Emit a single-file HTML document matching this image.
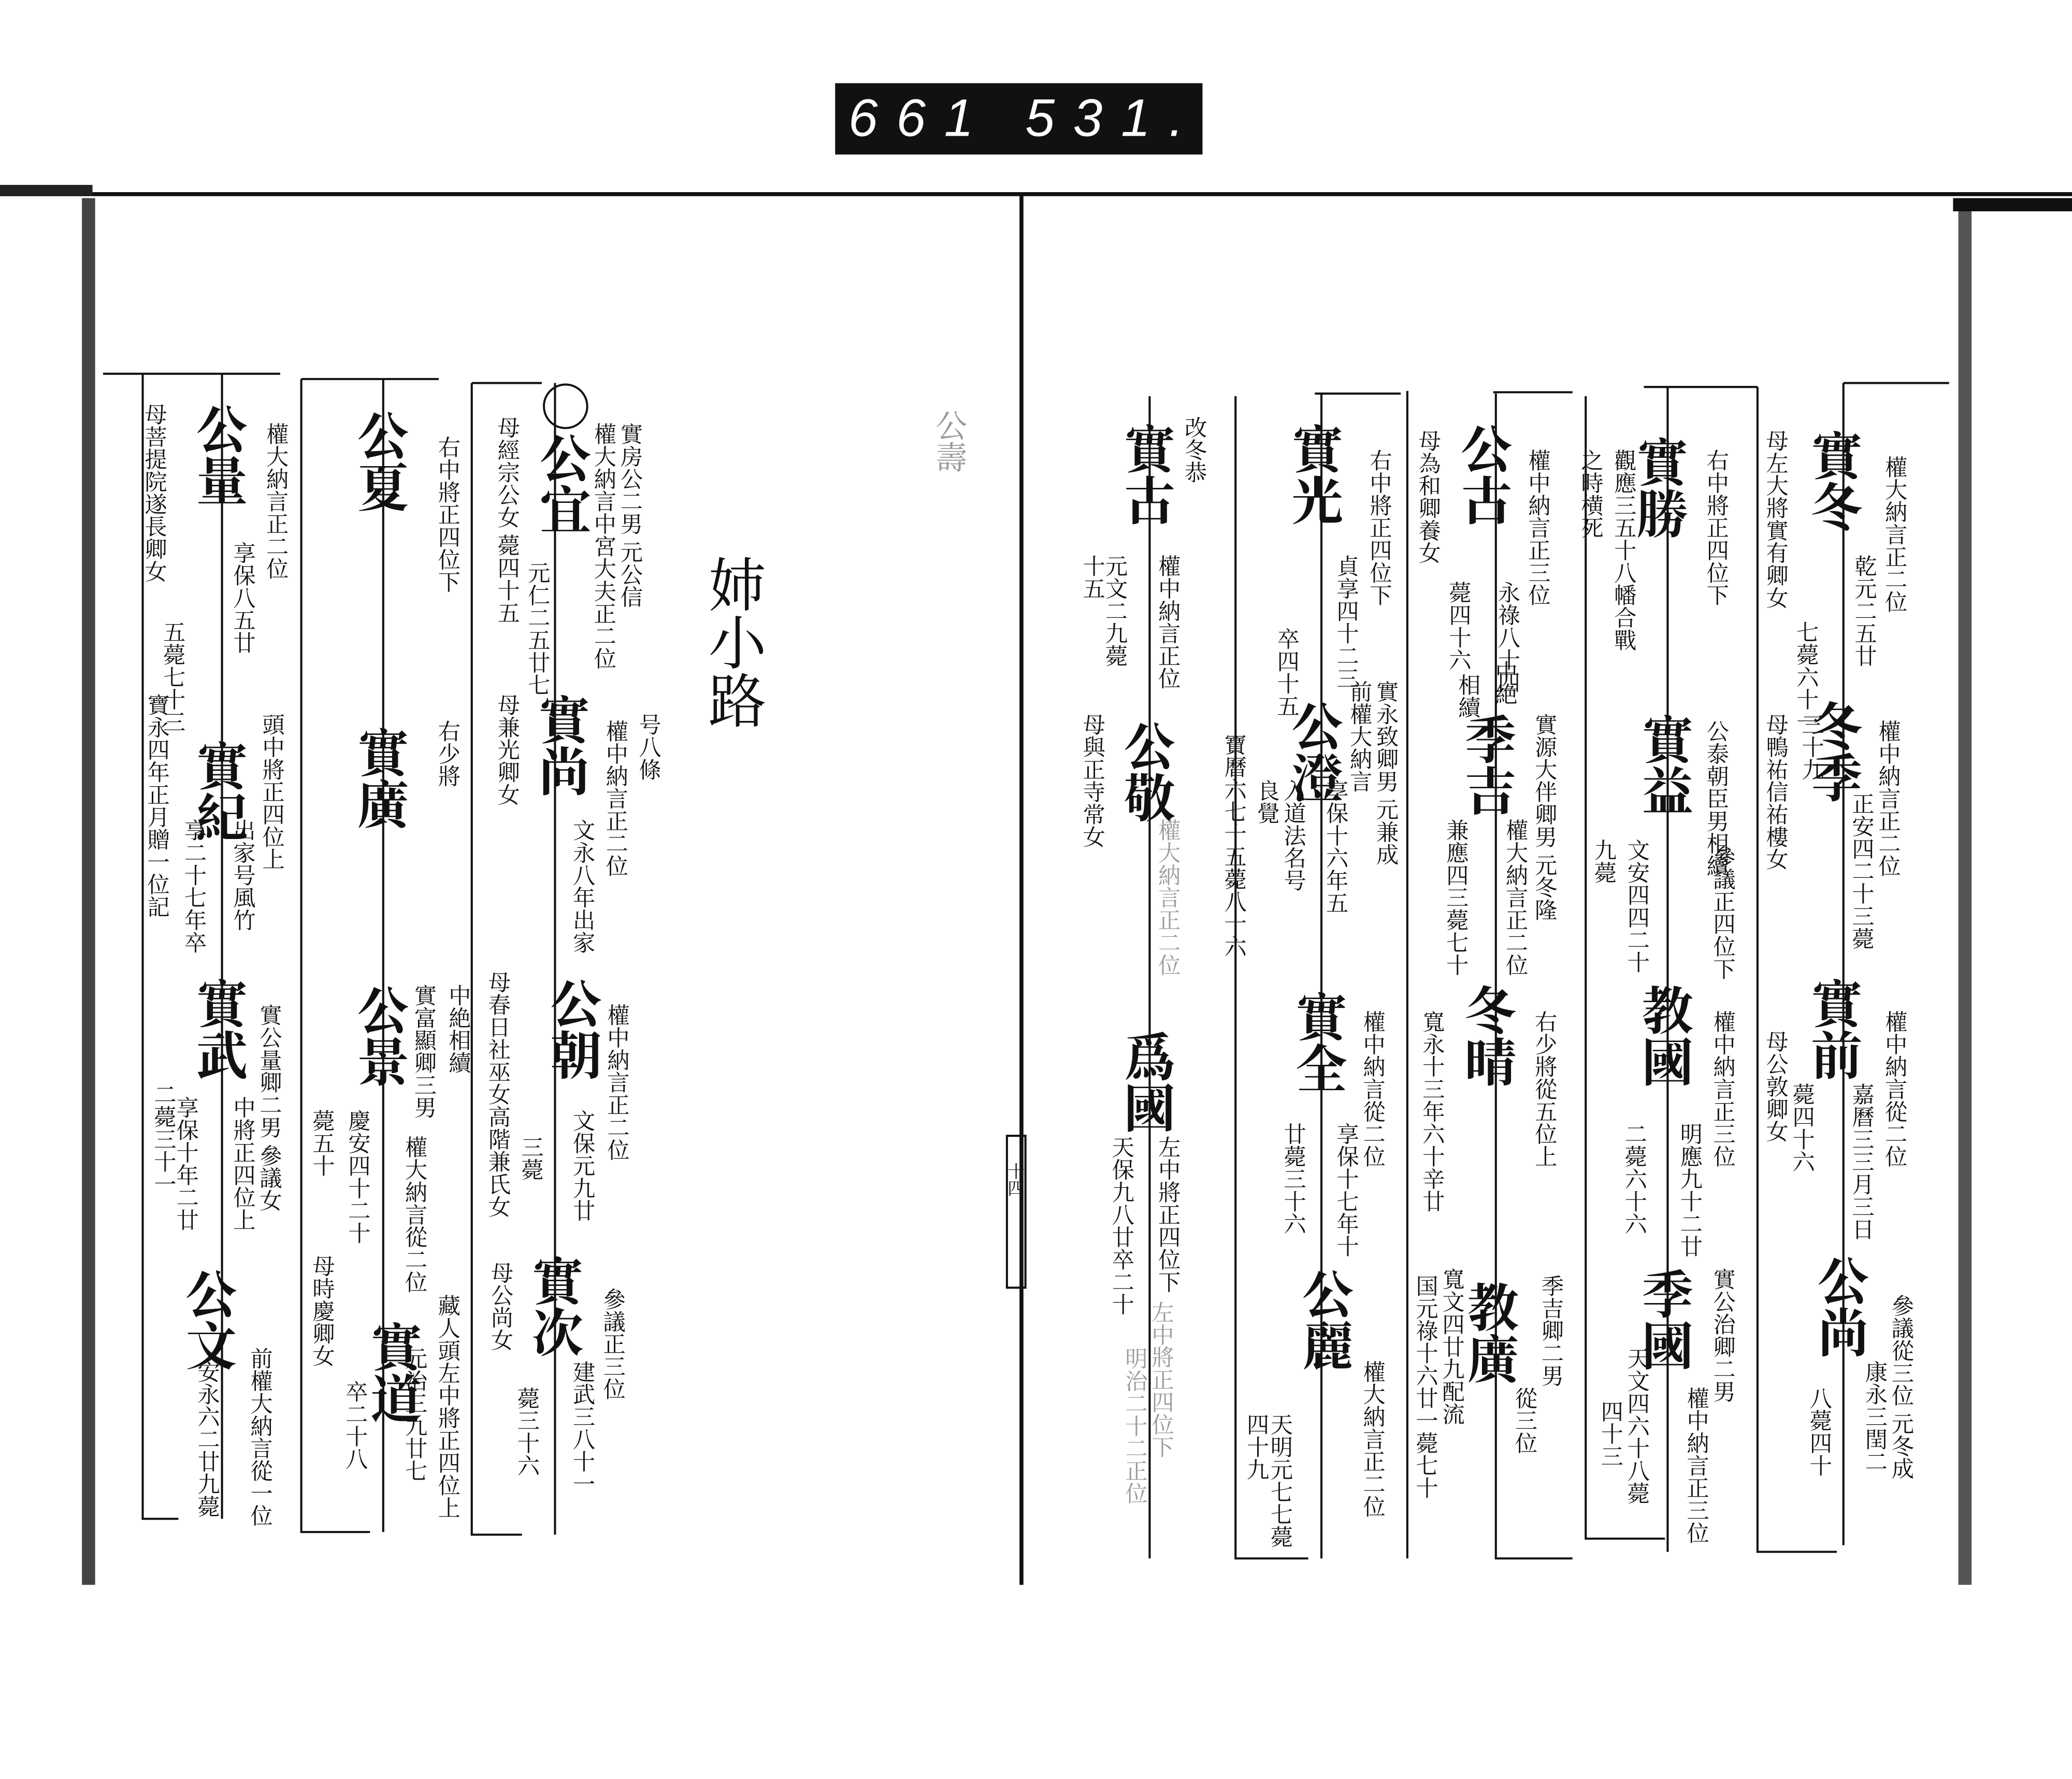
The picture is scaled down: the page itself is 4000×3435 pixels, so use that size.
<!DOCTYPE html>
<html><head><meta charset="utf-8"><style>
html,body{margin:0;padding:0;background:#fff;}
svg{display:block;}
text{font-family:"Noto Serif CJK SC","Noto Sans CJK SC",serif;fill:#111;writing-mode:vertical-rl;}
.m{font-size:39px;font-weight:bold;}
.s{font-size:17px;}
.f{font-size:17px;fill:#999;}
line,path{stroke:#111;fill:none;}
</style></head><body>
<svg width="4000" height="3435" viewBox="0 0 1568 1347" preserveAspectRatio="none">
<rect width="1568" height="1347" fill="#fff"/>
<rect x="632" y="63" width="278" height="54" fill="#111"/>
<text x="0" y="0" style="writing-mode:horizontal-tb;font-family:'Liberation Sans',sans-serif;font-size:40px;fill:#fff;font-style:italic;letter-spacing:14px" transform="translate(642,103)">661  531.</text>
<line x1="0" y1="147" x2="1568" y2="147" stroke-width="3"/>
<line x1="773" y1="147" x2="773" y2="1200" stroke-width="3"/>
<rect x="62" y="150" width="10" height="1050" fill="#444"/>
<rect x="0" y="140" width="70" height="8" fill="#222"/>
<rect x="1482" y="150" width="10" height="1050" fill="#555"/>
<rect x="1478" y="150" width="90" height="10" fill="#111"/>
<g stroke-width="1.6">
<path d="M78 283 H212 M108 283 V1150 H135 M168 283 V1150 M228 287 H332 M228 287 V1160 H280 M290 287 V1160 M357 290 H410 M357 290 V1162 H395 M420 290 V1162"/>
<path d="M935 300 V1180 H990 M870 300 V1180 M995 298 H1060 M1065 296 V1180 M1000 298 V1180 M1132 298 V1180 H1190 M1130 297 H1190 M1200 300 V1165 H1260 M1262 293 V1175 M1244 293 H1330 M1330 293 V1175 H1390 M1395 290 V1170 M1395 290 H1475"/>
<rect x="762" y="860" width="14" height="115" fill="none" stroke="#111"/>
</g>
<text class="s" x="769" y="880" style="font-size:13px">十四</text>
<text x="558" y="420" style="font-size:44px">姉小路</text>
<text class="s" x="492" y="540">号八條</text>
<text class="s" x="478" y="320">實房公二男 元公信</text>
<text class="s" x="458" y="320">權大納言中宮大夫正二位</text>
<text class="m" x="428" y="288">○公宜</text>
<text class="s" x="408" y="425">元仁二五廿七</text>
<text class="s" x="385" y="315">母經宗公女 薨四十五</text>
<text class="m" x="427" y="525">實尚</text>
<text class="s" x="467" y="545">權中納言正二位</text>
<text class="s" x="442" y="620">文永八年出家</text>
<text class="s" x="385" y="525">母兼光卿女</text>
<text class="m" x="436" y="740">公朝</text>
<text class="s" x="468" y="760">權中納言正二位</text>
<text class="s" x="442" y="840">文保元九廿</text>
<text class="s" x="403" y="860">三薨</text>
<text class="s" x="378" y="735">母春日社巫女高階兼氏女</text>
<text class="m" x="422" y="950">實次</text>
<text class="s" x="465" y="975">參議正三位</text>
<text class="s" x="442" y="1030">建武三八十一</text>
<text class="s" x="400" y="1050">薨三十六</text>
<text class="s" x="380" y="955">母公尚女</text>
<text class="m" x="290" y="310">公夏</text>
<text class="s" x="340" y="330">右中將正四位下</text>
<text class="s" x="340" y="545">右少將</text>
<text class="m" x="290" y="550">實廣</text>
<text class="s" x="348" y="745">中絶相續</text>
<text class="s" x="322" y="745">實富顯卿三男</text>
<text class="m" x="290" y="745">公景</text>
<text class="s" x="315" y="860">權大納言從二位</text>
<text class="s" x="272" y="840">慶安四十二十</text>
<text class="s" x="245" y="840">薨五十</text>
<text class="m" x="300" y="1000">實道</text>
<text class="s" x="340" y="980">藏人頭左中將正四位上</text>
<text class="s" x="315" y="1020">元治三九廿七</text>
<text class="s" x="270" y="1045">卒二十八</text>
<text class="s" x="245" y="950">母時慶卿女</text>
<text class="m" x="168" y="305">公量</text>
<text class="s" x="210" y="320">權大納言正二位</text>
<text class="s" x="185" y="410">享保八五廿</text>
<text class="s" x="132" y="470">五薨七十三</text>
<text class="s" x="118" y="305">母菩提院遂長卿女</text>
<text class="m" x="168" y="560">實紀</text>
<text class="s" x="207" y="540">頭中將正四位上</text>
<text class="s" x="185" y="620">出家号風竹</text>
<text class="s" x="148" y="620">享二十七年卒</text>
<text class="s" x="120" y="525">寶永四年正月贈一位記</text>
<text class="m" x="168" y="740">實武</text>
<text class="s" x="205" y="760">實公量卿二男 參議女</text>
<text class="s" x="185" y="830">中將正四位上</text>
<text class="s" x="142" y="830">享保十年二廿</text>
<text class="s" x="125" y="820">二薨三十一</text>
<text class="m" x="160" y="960">公文</text>
<text class="s" x="198" y="1020">前權大納言從一位</text>
<text class="s" x="158" y="1030">安永六二廿九薨</text>
<text class="s" x="1435" y="345">權大納言正二位</text>
<text class="m" x="1390" y="325">實冬</text>
<text class="s" x="1412" y="420">乾元二五廿</text>
<text class="s" x="1345" y="325">母左大將實有卿女</text>
<text class="s" x="1368" y="470">七薨六十一</text>
<text class="m" x="1390" y="530">冬季</text>
<text class="s" x="1430" y="545">權中納言正二位</text>
<text class="s" x="1410" y="600">正安四二十三薨</text>
<text class="s" x="1372" y="540">三十九</text>
<text class="s" x="1345" y="540">母鴨祐信祐樓女</text>
<text class="m" x="1390" y="740">實前</text>
<text class="s" x="1435" y="765">權中納言從二位</text>
<text class="s" x="1410" y="820">嘉曆三三月三日</text>
<text class="s" x="1365" y="820">薨四十六</text>
<text class="s" x="1345" y="780">母公敦卿女</text>
<text class="m" x="1395" y="950">公尚</text>
<text class="s" x="1440" y="980">參議從三位 元冬成</text>
<text class="s" x="1420" y="1030">康永三閏二</text>
<text class="s" x="1378" y="1050">八薨四十</text>
<text class="s" x="1300" y="340">右中將正四位下</text>
<text class="m" x="1258" y="330">實勝</text>
<text class="s" x="1230" y="340">觀應三五十八幡合戰</text>
<text class="s" x="1205" y="340">之時横死</text>
<text class="s" x="1300" y="545">公泰朝臣男相續</text>
<text class="m" x="1262" y="540">實益</text>
<text class="s" x="1305" y="640">參議正四位下</text>
<text class="s" x="1240" y="635">文安四四二十</text>
<text class="s" x="1215" y="635">九薨</text>
<text class="m" x="1262" y="745">教國</text>
<text class="s" x="1305" y="765">權中納言正三位</text>
<text class="s" x="1280" y="850">明應九十二廿</text>
<text class="s" x="1238" y="850">二薨六十六</text>
<text class="m" x="1262" y="960">季國</text>
<text class="s" x="1305" y="960">實公治卿二男</text>
<text class="s" x="1285" y="1050">權中納言正三位</text>
<text class="s" x="1240" y="1020">天文四六十八薨</text>
<text class="s" x="1220" y="1060">四十三</text>
<text class="s" x="1165" y="340">權中納言正三位</text>
<text class="m" x="1125" y="320">公古</text>
<text class="s" x="1142" y="440">永祿八十四</text>
<text class="s" x="1140" y="500">中絶</text>
<text class="s" x="1105" y="440">薨四十六</text>
<text class="s" x="1082" y="325">母為和卿養女</text>
<text class="s" x="1112" y="510">相續</text>
<text class="s" x="1170" y="540">實源大伴卿男 元冬隆</text>
<text class="m" x="1128" y="540">季吉</text>
<text class="s" x="1148" y="620">權大納言正二位</text>
<text class="s" x="1103" y="620">兼應四三薨七十</text>
<text class="s" x="1170" y="765">右少將從五位上</text>
<text class="m" x="1128" y="745">冬晴</text>
<text class="s" x="1085" y="765">寬永十三年六十辛廿</text>
<text class="s" x="1175" y="965">季吉卿二男</text>
<text class="s" x="1155" y="1050">從三位</text>
<text class="m" x="1130" y="970">教廣</text>
<text class="s" x="1100" y="960">寬文四廿九配流</text>
<text class="s" x="1080" y="965">国元祿十六廿一薨七十</text>
<text class="s" x="1045" y="340">右中將正四位下</text>
<text class="m" x="997" y="320">實光</text>
<text class="s" x="1020" y="420">貞享四十二三</text>
<text class="s" x="975" y="475">卒四十五</text>
<text class="s" x="1050" y="515">實永致卿男 元兼成</text>
<text class="s" x="1030" y="515">前權大納言</text>
<text class="s" x="1012" y="590">享保十六年五</text>
<text class="m" x="997" y="530">公澄</text>
<text class="s" x="980" y="590">入道法名号</text>
<text class="s" x="960" y="590">良覺</text>
<text class="s" x="1040" y="765">權中納言從二位</text>
<text class="m" x="1000" y="750">實全</text>
<text class="s" x="1020" y="850">享保十七年十</text>
<text class="s" x="980" y="850">廿薨三十六</text>
<text class="s" x="1040" y="1030">權大納言正二位</text>
<text class="m" x="1005" y="960">公麗</text>
<text class="s" x="970" y="1070">天明元七七薨</text>
<text class="s" x="952" y="1070">四十九</text>
<text class="s" x="905" y="315">改冬恭</text>
<text class="m" x="870" y="320">實古</text>
<text class="s" x="885" y="420">權中納言正位</text>
<text class="s" x="845" y="420">元文二九薨</text>
<text class="s" x="828" y="420">十五</text>
<text class="m" x="870" y="545">公敬</text>
<text class="f" x="885" y="620">權大納言正二位</text>
<text class="s" x="935" y="555">寶曆六七十五薨八十六</text>
<text class="s" x="828" y="540">母與正寺常女</text>
<text class="m" x="870" y="780">爲國</text>
<text class="s" x="885" y="860">左中將正四位下</text>
<text class="s" x="850" y="860">天保九八廿卒二十</text>
<text class="f" x="880" y="985">左中將正四位下</text>
<text class="f" x="860" y="1020">明治二十二正位</text>
<text class="f" x="720" y="310" style="font-size:24px">公壽</text>
</svg>
</body></html>
